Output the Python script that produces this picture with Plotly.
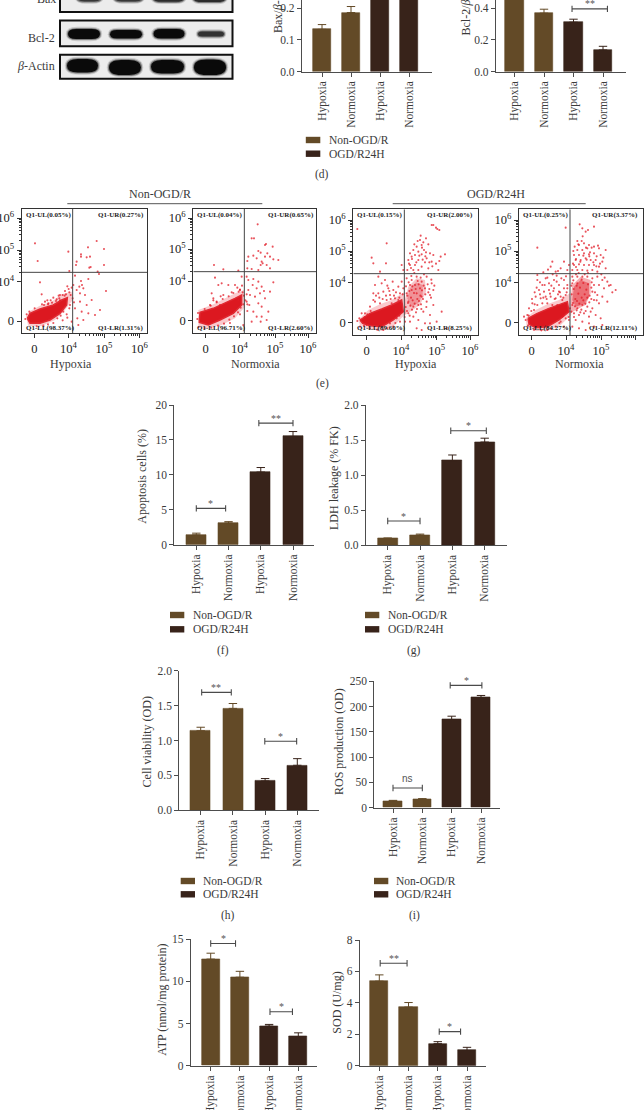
import math
import plotly.graph_objects as go

W, H = 644, 1110
BROWN, DARK = "#634a27", "#38231a"
INK, AXIS = "#3a3a3a", "#4d4d4d"
SERIF = "Liberation Serif"

TICKS = ["Hypoxia", "Normoxia", "Hypoxia", "Normoxia"]
SERIES = ["Non-OGD/R", "OGD/R24H"]

BAX_VALUES = [0.133, 0.186, 0.40, 0.40]
BAX_ERRORS = [0.015, 0.019, 0.02, 0.02]
BCL_VALUES = [0.60, 0.368, 0.311, 0.136]
BCL_ERRORS = [0.03, 0.025, 0.019, 0.023]
APOP_VALUES = [1.4, 3.1, 10.4, 15.5]
APOP_ERRORS = [0.25, 0.2, 0.65, 0.7]
LDH_VALUES = [0.095, 0.145, 1.21, 1.475]
LDH_ERRORS = [0.01, 0.015, 0.08, 0.055]
VIAB_VALUES = [1.14, 1.46, 0.42, 0.645]
VIAB_ERRORS = [0.05, 0.07, 0.035, 0.095]
ROS_VALUES = [13.5, 16.5, 174.5, 218]
ROS_ERRORS = [1, 1.5, 6.5, 4]
ATP_VALUES = [12.65, 10.5, 4.7, 3.45]
ATP_ERRORS = [0.7, 0.7, 0.2, 0.45]
SOD_VALUES = [5.38, 3.73, 1.4, 0.97]
SOD_ERRORS = [0.4, 0.29, 0.13, 0.2]

# flow cytometry events, (x channel, y channel)
E1_EVENTS = [(45,275),(53,222),(145,250),(148,192),(168,210),(170,220),(183,242),(183,235),(204,263),(230,282),(252,258),(210,235),(200,233),(208,202),(212,204),(252,210),(233,190),(237,183),(165,178),(183,162),(186,150),(178,145),(190,140),(205,168),(60,158),(180,125),(170,135),(195,120),(215,105),(180,100),(200,90),(165,80),(185,70),(205,65),(225,60),(172,50),(190,45),(155,40),(240,75),(258,132),(175,30),(65,122),(85,95),(120,120),(135,132),(110,107),(160,150),(75,100),
(148,128),(152,120),(146,138),(138,122),(128,120),(118,110),(108,102),(96,97),(84,92),(72,90),(130,70),(122,58),(112,50),(100,36),(84,32),(70,28),(50,26),(158,110),(162,98),(150,90),(148,80),(140,62),(134,118),(116,118),(92,104),(66,92),(44,80),(28,70),(20,62),(16,48),(128,44),(142,52),(100,112),(82,104),(155,142),(142,146),(120,104)]
E2_EVENTS = [(203,332),(185,290),(192,290),(228,273),(225,270),(248,265),(232,245),(212,247),(205,252),(190,238),(175,235),(172,222),(200,230),(215,220),(225,235),(240,235),(250,227),(265,225),(218,215),(212,210),(230,210),(172,200),(185,198),(205,195),(240,200),(72,210),(100,197),(145,193),(170,175),(175,165),(190,168),(205,160),(188,150),(200,140),(215,145),(175,135),(170,122),(180,120),(195,115),(210,125),(222,132),(225,110),(240,130),(170,100),(178,90),(205,95),(215,85),(190,70),(172,72),(200,55),(215,55),(235,70),(230,45),(185,40),(212,40),(160,30),(250,158),(75,172),(85,150),(95,155),(115,150),(65,125),(80,100),(100,120),(125,128),(135,150),(155,175),(150,135),(60,90),(70,110),(145,105),(90,90),
(150,136),(158,128),(146,130),(162,118),(166,104),(160,92),(152,82),(144,68),(132,56),(118,46),(102,34),(84,28),(64,22),(44,20),(26,24),(22,48),(24,66),(44,78),(62,88),(80,98),(98,108),(116,116),(130,126),(142,142),(156,148),(172,92),(120,36),(150,62),(92,116),(70,104)]
E3_EVENTS = [(250,330),(258,322),(268,315),(262,318),(245,330),(212,298),(210,285),(228,290),(220,278),(200,265),(215,270),(235,272),(190,255),(180,245),(205,250),(222,255),(215,242),(240,245),(185,235),(195,240),(230,230),(250,240),(272,235),(285,242),(175,225),(205,225),(225,218),(245,220),(180,210),(195,210),(215,205),(235,200),(265,195),(172,195),(205,195),(190,195),(155,210),(160,195),(110,275),(22,318),(108,215),(65,232),(70,215),(90,190),
(170,170),(185,165),(200,175),(215,160),(230,175),(245,155),(250,135),(240,120),(225,140),(180,150),(195,150),(210,140),(170,125),(185,135),(200,125),(215,115),(230,100),(250,90),(175,100),(190,85),(205,90),(220,70),(240,60),(175,65),(190,55),(205,45),(225,35),(180,40),(200,20),(215,15),(260,40),(165,40),(240,35),(275,70),(290,20),
(75,150),(85,175),(95,155),(105,165),(115,140),(70,125),(85,125),(100,130),(120,120),(130,135),(145,145),(155,160),(135,110),(110,105),(90,95),(75,100),(60,85),(150,125),(145,105),(125,95),(70,105),(45,65),(35,65),(50,30),(30,25),(100,15),(130,25),(150,40),(120,35),(140,50),(155,70),
(172,118),(178,132),(183,112),(187,146),(192,126),(197,138),(202,108),(206,152),(211,118),(216,134),(221,148),(226,122),(174,96),(181,88),(188,104),(194,94),(201,78),(207,102),(213,92),(219,108),(168,146),(176,158),(184,177),(193,186),(203,162),(212,172),(222,182),(233,152),(238,138),(243,112),(167,84),(171,72),(179,58),(186,76),(198,68),(214,78),(229,84),(235,128),(244,166),(253,148),(183,201),(199,218),(208,238),(218,226),(228,248),(238,218),(203,282),(216,262),(193,272),(226,236),(177,214),(186,228),(247,206),(258,214),(268,222),(128,160),(138,128),(148,112),(118,132),(108,118),(98,108),(88,112),(78,118),(112,148),(122,108),(132,118),(62,72),(52,62),(44,54),(158,122),(160,140),(152,92),(164,54),(148,58),(136,36),(112,20),(82,16),(60,20),(42,28),(28,50),(22,42)]
E4_EVENTS = [(197,332),(205,320),(215,310),(240,325),(222,315),(155,322),(70,262),(115,220),(70,180),(165,210),
(182,265),(195,270),(210,275),(225,270),(190,255),(205,255),(220,260),(240,265),(255,260),(180,240),(195,240),(210,245),(225,242),(240,245),(260,240),(275,255),(185,225),(200,225),(215,230),(230,225),(245,225),(265,220),(180,210),(195,212),(210,210),(225,210),(240,210),(255,205),(175,195),(190,195),(205,195),(220,193),(235,195),(250,190),(275,200),(150,220),(140,200),(110,205),(125,190),(160,195),
(175,175),(190,175),(205,175),(220,175),(235,170),(250,175),(265,165),(280,160),(175,155),(190,155),(240,150),(255,150),(270,140),(290,150),(305,135),(235,130),(250,120),(265,115),(240,105),(255,95),(280,100),(175,90),(190,80),(205,90),(220,85),(235,80),(180,65),(195,60),(210,65),(225,55),(245,60),(260,50),(185,45),(205,40),(225,35),(175,25),(195,20),(240,25),(215,15),(265,30),(165,45),
(70,165),(85,150),(95,170),(105,155),(120,165),(135,150),(150,165),(75,135),(90,130),(105,135),(120,140),(135,130),(150,140),(160,150),(65,115),(80,110),(95,115),(110,115),(125,110),(140,115),(155,120),(55,95),(70,90),(85,95),(100,95),(115,90),(130,90),(145,105),(45,80),(60,75),(40,60),(35,45),(30,55),(140,40),(155,50),(125,25),(100,15),(150,25),(160,70),(145,55),
(173,122),(179,138),(184,108),(188,148),(193,124),(198,142),(203,112),(208,156),(212,122),(217,136),(222,152),(227,118),(232,142),(177,96),(183,86),(189,102),(196,94),(202,76),(208,104),(214,94),(220,112),(226,98),(232,108),(172,148),(178,164),(186,182),(194,186),(203,166),(212,182),(222,186),(233,158),(243,128),(248,104),(168,80),(172,70),(180,54),(188,74),(199,68),(215,72),(230,70),(186,204),(199,220),(208,238),(218,226),(228,248),(238,218),(203,282),(216,262),(193,272),(226,236),(177,214),(186,228),(247,206),(258,214),(268,232),(248,236),(233,262),(206,296),(190,282),(178,252),(252,268),(262,182),(272,172),(285,148),(295,128),(128,160),(138,128),(148,112),(118,132),(108,124),(98,108),(88,112),(78,122),(112,148),(122,108),(132,122),(62,92),(52,72),(44,58),(158,128),(160,140),(152,92),(164,54),(148,58),(136,36),(112,18),(82,14),(60,16),(42,28),(92,150),(78,158),(100,172),(128,178),(142,170),(156,176),(62,128),(68,142),(54,108),(116,182),(132,192),(88,188),(102,196)]

E1_CORE = [(22,50),(30,65),(60,78),(100,90),(125,105),(142,112),(140,90),(120,65),(90,45),(60,35),(30,35)]
E1_HALO = [(18,55),(30,72),(60,88),(95,100),(125,122),(155,130),(158,105),(135,75),(105,45),(65,27),(25,27)]
E2_CORE = [(28,45),(30,68),(70,80),(105,95),(135,110),(155,120),(155,90),(130,65),(90,45),(55,30),(28,38)]
E2_HALO = [(25,40),(25,75),(70,92),(105,110),(135,125),(162,135),(165,85),(135,50),(95,30),(50,20),(25,25)]
E3_CORE = [(30,45),(60,65),(95,78),(125,90),(155,105),(160,70),(130,45),(95,25),(60,28),(38,35)]
E3_HALO = [(25,45),(55,75),(90,92),(125,105),(165,130),(168,65),(135,30),(95,12),(55,18),(30,30)]
E3_CLOUD = [(165,105),(175,145),(200,170),(225,165),(228,130),(210,90),(180,70),(165,60)]
E3_DENSE = [(172,110),(180,140),(198,158),(218,150),(218,120),(205,95),(182,85)]
E4_CORE = [(42,50),(70,65),(105,80),(135,90),(160,100),(165,70),(135,45),(100,25),(65,22),(45,32)]
E4_HALO = [(35,50),(65,75),(100,92),(135,105),(168,125),(172,60),(140,30),(100,12),(60,12),(38,25)]
E4_CLOUD = [(170,110),(175,150),(200,175),(230,165),(230,125),(215,90),(185,75),(170,65)]
E4_DENSE = [(175,105),(180,145),(200,165),(225,155),(225,115),(210,92),(185,85)]

QUADS = {
    "e1": ["Q1-UL(0.05%)", "Q1-UR(0.27%)", "Q1-LL(98.37%)", "Q1-LR(1.31%)"],
    "e2": ["Q1-UL(0.04%)", "Q1-UR(0.65%)", "Q1-LL(96.71%)", "Q1-LR(2.60%)"],
    "e3": ["Q1-UL(0.15%)", "Q1-UR(2.00%)", "Q1-LL(89.60%)", "Q1-LR(8.25%)"],
    "e4": ["Q1-UL(0.25%)", "Q1-UR(3.37%)", "Q1-LL(84.27%)", "Q1-LR(12.11%)"],
}

fig = go.Figure()
layout = {}
shapes = []
annos = []
axis_n = [0]


def fx(p):
    return p / W


def fy(p):
    return 1 - p / H


def text(s, x, y, size=12, xa="center", ya="middle", angle=0, color=INK, font=SERIF):
    annos.append(dict(text=s, x=fx(x), y=fy(y), xref="paper", yref="paper", showarrow=False,
                      xanchor=xa, yanchor=ya, textangle=angle, align="left",
                      font=dict(family=font, size=size, color=color)))


def new_axes(left, right, top, bottom):
    axis_n[0] += 1
    n = axis_n[0]
    sfx = "" if n == 1 else str(n)
    xname, yname = "x" + sfx, "y" + sfx
    xa = dict(domain=[fx(left), fx(right)], anchor=yname, showgrid=False, zeroline=False, automargin=False)
    ya = dict(domain=[fy(bottom), fy(top)], anchor=xname, showgrid=False, zeroline=False, automargin=False)
    layout["xaxis" + sfx] = xa
    layout["yaxis" + sfx] = ya
    return xname, yname, xa, ya


def bar_chart(values, errors, vmax, yticks, ylabels, left, right, top, bottom, c0, c3, bar_w,
              brackets, title, tx, ty, tsize=12, t_ya="middle"):
    xn, yn, xa, ya = new_axes(left, right, top, bottom)
    spacing = (c3 - c0) / 3
    xa.update(range=[(left - c0) / spacing, (right - c0) / spacing], tickmode="array",
              tickvals=[0, 1, 2, 3], ticktext=TICKS, tickangle=-90, ticks="outside", ticklen=4,
              tickwidth=1, tickcolor=AXIS, showline=True, linecolor=AXIS, linewidth=1.2,
              tickfont=dict(family=SERIF, size=11.5, color=INK))
    ya.update(range=[0, vmax], tickmode="array", tickvals=yticks, ticktext=ylabels, ticks="outside",
              ticklen=4, tickwidth=1, tickcolor=AXIS, showline=True, linecolor=AXIS, linewidth=1.2,
              tickfont=dict(family=SERIF, size=11.5, color=INK))
    for idx, color, name in ((0, BROWN, SERIES[0]), (2, DARK, SERIES[1])):
        fig.add_trace(go.Bar(x=[idx, idx + 1], y=values[idx:idx + 2], width=bar_w / spacing, name=name,
                             marker=dict(color=color, line=dict(color=color, width=0.6)),
                             error_y=dict(type="data", symmetric=False, array=errors[idx:idx + 2],
                                          arrayminus=[0, 0], color=color, thickness=1, width=4.2),
                             xaxis=xn, yaxis=yn, showlegend=False, hoverinfo="skip"))
    cap = (bottom - top)
    for a, b, v, star in brackets:
        d = vmax * 3.2 / cap
        fig.add_trace(go.Scatter(x=[a, a, a, a, b, b, b], y=[v - d, v + d, v, v, v, v + d, v - d],
                                 mode="lines", line=dict(color="#4a4a4a", width=1.1), xaxis=xn, yaxis=yn,
                                 showlegend=False, hoverinfo="skip"))
        if star:
            annos.append(dict(text=star, x=(a + b) / 2, y=v, xref=xn, yref=yn, showarrow=False,
                              yshift=5 if star != "ns" else 9,
                              font=dict(family=SERIF if star != "ns" else "Liberation Sans",
                                        size=10, color="#555555")))
    text(title, tx, ty, size=tsize, angle=-90, ya=t_ya)


def legend(sw_left, sw_right, y1, y2, tx):
    for y, c, s in ((y1, BROWN, SERIES[0]), (y2, DARK, SERIES[1])):
        shapes.append(dict(type="rect", xref="paper", yref="paper", x0=fx(sw_left), x1=fx(sw_right),
                           y0=fy(y + 3.2), y1=fy(y - 3.2), fillcolor=c, line=dict(width=0)))
        text(s, tx, y, size=11.5, xa="left")


def minor_ticks(ticks):
    out = []
    for lo, hi in zip(ticks[1:-1], ticks[2:]):
        for k in range(2, 10):
            out.append(lo + (hi - lo) * math.log10(k))
    return out


def flow(events, halo, core, clouds, quads, box, xt, yt, gate_x, gate_y, label_x, q_left, q_right, q_ybot):
    left, right, top, bottom, ox, oy = box
    xn, yn, xa, ya = new_axes(left, right, top, bottom)
    xlab = ["0", "10<sup>4</sup>", "10<sup>5</sup>", "10<sup>6</sup>"]
    common = dict(tickmode="array", ticks="outside", ticklen=4, tickwidth=1, tickcolor="#333333",
                  showline=True, mirror=True, linecolor="#333333", linewidth=1.3,
                  tickfont=dict(family=SERIF, size=12.5, color="#222222"))
    xa.update(range=[(left - ox) * 3, (right - ox) * 3], tickvals=xt, ticktext=xlab,
              minor=dict(tickvals=minor_ticks(xt), ticks="outside", ticklen=2, tickcolor="#333333"), **common)
    ya.update(range=[390 - (bottom - oy) * 3, 390 - (top - oy) * 3], tickvals=yt, ticktext=xlab,
              minor=dict(tickvals=minor_ticks(yt), ticks="outside", ticklen=2, tickcolor="#333333"), **common)
    polys = [(halo, "rgba(240,90,100,0.32)")] + clouds
    for poly, col in polys:
        fig.add_trace(go.Scatter(x=[p[0] for p in poly] + [poly[0][0]], y=[p[1] for p in poly] + [poly[0][1]],
                                 mode="lines", fill="toself", fillcolor=col, line=dict(width=0),
                                 xaxis=xn, yaxis=yn, showlegend=False, hoverinfo="skip"))
    fig.add_trace(go.Scatter(x=[p[0] for p in core] + [core[0][0]], y=[p[1] for p in core] + [core[0][1]],
                             mode="lines", fill="toself", fillcolor="#dc1820", line=dict(width=1.5, color="#e02a32"),
                             xaxis=xn, yaxis=yn, showlegend=False, hoverinfo="skip"))
    fig.add_trace(go.Scatter(x=[e[0] for e in events], y=[e[1] for e in events], mode="markers",
                             marker=dict(size=2.1, color="rgba(225,25,38,0.75)", line=dict(width=0)),
                             xaxis=xn, yaxis=yn, showlegend=False, hoverinfo="skip"))
    rng_x, rng_y = xa["range"], ya["range"]
    fig.add_trace(go.Scatter(x=[gate_x, gate_x, None, rng_x[0], rng_x[1]],
                             y=[rng_y[0], rng_y[1], None, gate_y, gate_y], mode="lines",
                             line=dict(color="#454545", width=1), xaxis=xn, yaxis=yn,
                             showlegend=False, hoverinfo="skip"))
    text("Hypoxia" if label_x[1] == 0 else "Normoxia", label_x[0], 364, size=12)
    ul, ur, ll, lr = quads
    text("<b>%s</b>" % ul, q_left, 215, size=7, xa="left", color="#222222")
    text("<b>%s</b>" % ur, q_right, 215, size=7, xa="right", color="#222222")
    text("<b>%s</b>" % ll, q_left, q_ybot, size=7, xa="left", color="#222222")
    text("<b>%s</b>" % lr, q_right, q_ybot, size=7, xa="right", color="#222222")


def band(x0, x1, y0, y1, strength=1.0):
    def path(a, b, c, d):
        r = (d - c) * 0.8
        m = (c + d) / 2
        P = lambda x, y: "%f,%f" % (fx(x), fy(y))
        return ("M " + P(a, m) + " Q " + P(a, c) + " " + P(a + r, c) + " L " + P(b - r, c) +
                " Q " + P(b, c) + " " + P(b, m) + " Q " + P(b, d) + " " + P(b - r, d) +
                " L " + P(a + r, d) + " Q " + P(a, d) + " " + P(a, m) + " Z")
    for grow, col, op in ((2.2, "#8a8a8a", 0.35), (1.1, "#4a4a4a", 0.6), (0, "#0a0a0a", strength)):
        shapes.append(dict(type="path", xref="paper", yref="paper", path=path(x0 - grow, x1 + grow, y0 - grow, y1 + grow),
                           fillcolor=col, opacity=op, line=dict(width=0)))


def blot_box(y0, y1, bands):
    shapes.append(dict(type="rect", xref="paper", yref="paper", x0=fx(60), x1=fx(232.5), y0=fy(y1), y1=fy(y0),
                       fillcolor="#ececec", line=dict(color="#111111", width=2)))
    for b in bands:
        band(*b)


# blots
blot_box(-5, 12, [(76.8, 101.7, -8, 1.5, .6), (114, 143, -8, 1.5, .6), (152.7, 184.6, -8, 1.8, .7), (193, 226, -8, 2, .7)])
blot_box(20.5, 46.3, [(68, 100, 29, 39), (110, 142, 30, 38.5), (153.5, 184.5, 29, 38.5), (198, 224, 31.5, 36.5, .65)])
blot_box(54.7, 78.7, [(67, 98, 59, 72.5), (109, 141, 60, 75), (151, 184, 60, 73.5), (194, 226, 59.5, 75)])
text("Bax", 57.5, -1, size=12, xa="right")
text("Bcl-2", 57, 37.7, size=12, xa="right")
text("<i>β</i>-Actin", 56.5, 66, size=12, xa="right")

# bar charts
bar_chart(BAX_VALUES, BAX_ERRORS, 71.5 / 317, [0, .1, .2], ["0.0", "0.1", "0.2"], 302, 432, 0, 71.5,
          322, 409, 18.3, [(0.1, 1.0, 0.236, None)], "Bax/<i>β</i>-actin", 278, 35, t_ya="bottom")
bar_chart(BCL_VALUES, BCL_ERRORS, 71.5 / 158.5, [0, .2, .4], ["0.0", "0.2", "0.4"], 496, 626, 0, 71.5,
          514.5, 603, 18.3, [(1.95, 3.15, .395, "**")], "Bcl-2/<i>β</i>-actin", 466, 38, t_ya="bottom")
bar_chart(APOP_VALUES, APOP_ERRORS, 20, [0, 5, 10, 15, 20], ["0", "5", "10", "15", "20"], 174.3, 314.3, 405, 544.7,
          196.3, 293, 20, [(0, .91, 5.2, "*"), (1.94, 3, 17.4, "**")], "Apoptosis cells (%)", 142, 476.7)
bar_chart(LDH_VALUES, LDH_ERRORS, 2, [0, .5, 1, 1.5, 2], ["0.0", "0.5", "1.0", "1.5", "2.0"], 366, 506.7, 405.3, 545.3,
          387.7, 484.7, 20, [(0, 1, .347, "*"), (1.95, 3.05, 1.637, "*")], "LDH leakage (% FK)", 333.3, 477.7)
bar_chart(VIAB_VALUES, VIAB_ERRORS, 2, [0, .5, 1, 1.5, 2], ["0.0", "0.5", "1.0", "1.5", "2.0"], 179.3, 318.7, 670.7, 810.3,
          200.7, 297.3, 20, [(.03, .95, 1.69, "**"), (1.99, 2.98, .99, "*")], "Cell viability (OD)", 146.7, 741.7)
bar_chart(ROS_VALUES, ROS_ERRORS, 250, [0, 50, 100, 150, 200, 250], ["0", "50", "100", "150", "200", "250"], 374.3, 500, 681.3, 807.7,
          393, 481, 18.7, [(0, 1, 39, "ns"), (1.95, 3.03, 242, "*")], "ROS production (OD)", 338.3, 741.7)
bar_chart(ATP_VALUES, ATP_ERRORS, 15, [0, 5, 10, 15], ["0", "5", "10", "15"], 191, 316.7, 939.3, 1065.7,
          210.7, 298.3, 18.3, [(0, .85, 14.5, "*"), (2.03, 2.8, 6.4, "*")], "ATP (nmol/mg protein)", 161.7, 1000)
bar_chart(SOD_VALUES, SOD_ERRORS, 8, [0, 2, 4, 6, 8], ["0", "2", "4", "6", "8"], 360, 486, 940, 1065.7,
          379.3, 467, 18.3, [(.03, .95, 6.52, "**"), (2.05, 2.78, 2.17, "*")], "SOD (U/mg)", 336.7, 1003)

# flow panels
flow(E1_EVENTS, E1_HALO, E1_CORE, [], QUADS["e1"], (21.7, 147, 209, 333.3, 20, 205),
     [43, 145, 252, 358], [42, 160, 255, 351], 158, 188, (70.7, 0), 24, 146, 327.7)
flow(E2_EVENTS, E2_HALO, E2_CORE, [], QUADS["e2"], (193.3, 316, 209, 333.3, 190, 205),
     [47, 148, 255, 354], [43, 162, 258, 351], 163, 190, (255.7, 1), 194.5, 316, 327.7)
flow(E3_EVENTS, E3_HALO, E3_CORE, [(E3_CLOUD, "rgba(232,60,70,0.30)"), (E3_DENSE, "rgba(225,40,50,0.32)")], QUADS["e3"],
     (353.3, 478.3, 209.3, 335, 350, 205),
     [50, 153, 260, 360], [37, 157, 252, 345], 163, 184, (415.7, 0), 355, 475, 328.3)
flow(E4_EVENTS, E4_HALO, E4_CORE, [(E4_CLOUD, "rgba(232,50,60,0.38)"), (E4_DENSE, "rgba(225,30,40,0.45)")], QUADS["e4"],
     (519, 643.3, 209.3, 335, 514, 205),
     [53, 156, 261, 363], [37, 157, 252, 345], 168, 184, (579, 1), 521, 640, 328.3)

# group headers
text("Non-OGD/R", 160, 194.3, size=12)
text("OGD/R24H", 495.7, 194.3, size=12)
for x0, x1 in ((67.3, 262.3), (392.7, 585.7)):
    shapes.append(dict(type="line", xref="paper", yref="paper", x0=fx(x0), x1=fx(x1), y0=fy(203.7), y1=fy(203.7),
                       line=dict(color="#555555", width=1)))

# legends
legend(305.8, 320.3, 140, 153.7, 327)
legend(170, 184.3, 615, 629.3, 190.7)
legend(365, 379.3, 615, 629.3, 386)
legend(180.7, 195, 881, 894.3, 201)
legend(374, 388.3, 881, 894.3, 394.3)

# captions
for s, x, y in (("(d)", 322, 175), ("(e)", 322, 383), ("(f)", 222.7, 650.7), ("(g)", 414.3, 650.7),
                ("(h)", 227.7, 915.7), ("(i)", 414.3, 915.7)):
    text(s, x, y, size=11.5)

fig.update_layout(width=W, height=H, margin=dict(l=0, r=0, t=0, b=0, pad=0), autosize=False,
                  paper_bgcolor="white", plot_bgcolor="white", showlegend=False, bargap=0,
                  shapes=shapes, annotations=annos, **layout)

fig.write_html("out.html", config={"displayModeBar": False},
               post_script="document.body.style.margin='0';document.body.style.overflow='hidden';")
